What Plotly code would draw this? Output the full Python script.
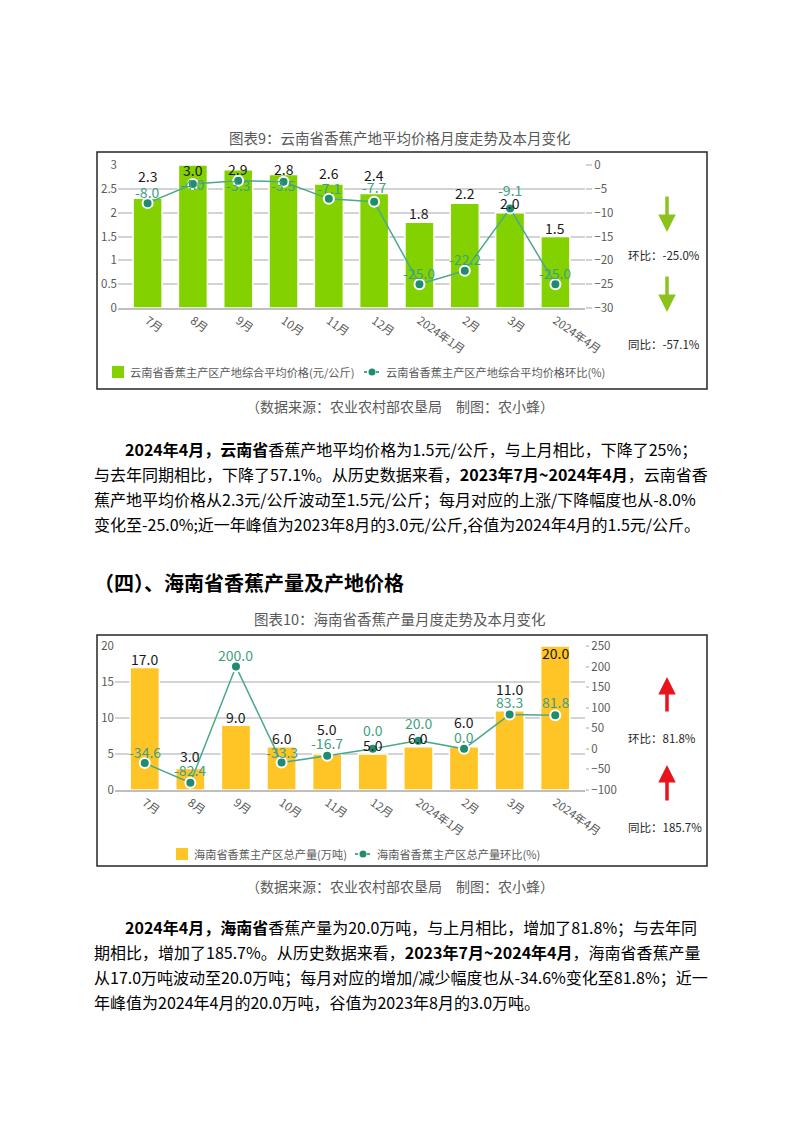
import plotly.graph_objects as go

W, H = 802, 1133


def px(x):
    return x / W


def py(y):
    return 1 - y / H


FONT = "Noto Sans CJK SC, Noto Sans, sans-serif"

# ---------------- data ----------------
months = ["7月", "8月", "9月", "10月", "11月", "12月", "2024年1月", "2月", "3月", "2024年4月"]
yn_price = [2.3, 3.0, 2.9, 2.8, 2.6, 2.4, 1.8, 2.2, 2.0, 1.5]
yn_mom = [-8.0, -4.0, -3.3, -3.5, -7.1, -7.7, -25.0, -22.2, -9.1, -25.0]
hn_output = [17.0, 3.0, 9.0, 6.0, 5.0, 5.0, 6.0, 6.0, 11.0, 20.0]
hn_mom = [-34.6, -82.4, 200.0, -33.3, -16.7, 0.0, 20.0, 0.0, 83.3, 81.8]

yn_mom_latest, yn_yoy_latest = -25.0, -57.1
hn_mom_latest, hn_yoy_latest = 81.8, 185.7

# label offsets (pixels, style only)
yn_bar_shift = [22, -5, 1, 5.5, 11, 18.6, 9, 10, 9.4, 8]
yn_line_shift = [11.4, 0, -4.3, -3, 11, 14.4, 11.5, 11.5, 18.4, 11.5]
hn_bar_shift = [8.3, 12.4, 8, 9, 24.7, 9, 8.5, 24.5, 21.5, -6.7]
hn_line_shift = [11.4, 12.8, 11.6, 11, 12.5, 19, 18, 12.2, 13, 13.6]

GREEN_BAR = "#84d100"
YELLOW_BAR = "#ffc526"
LINE_C = "#4aa88e"
MARK_C = "#1f8c70"
LABEL_TEAL = "#3f9f82"
TICK_C = "#595959"
GRID_C = "#d3d3d3"

fig = go.Figure()

fig.add_trace(go.Bar(x=months, y=yn_price, xaxis="x", yaxis="y",
                     marker=dict(color=GREEN_BAR, line=dict(color="white", width=1.5)),
                     showlegend=False, hoverinfo="skip"))
fig.add_trace(go.Scatter(x=months, y=yn_mom, xaxis="x", yaxis="y2", mode="lines+markers",
                         line=dict(color=LINE_C, width=1.5),
                         marker=dict(color=MARK_C, size=10, line=dict(color="white", width=2)),
                         showlegend=False, hoverinfo="skip"))
fig.add_trace(go.Bar(x=months, y=hn_output, xaxis="x2", yaxis="y3",
                     marker=dict(color=YELLOW_BAR, line=dict(color="white", width=1.5)),
                     showlegend=False, hoverinfo="skip"))
fig.add_trace(go.Scatter(x=months, y=hn_mom, xaxis="x2", yaxis="y4", mode="lines+markers",
                         line=dict(color=LINE_C, width=1.5),
                         marker=dict(color=MARK_C, size=10, line=dict(color="white", width=2)),
                         showlegend=False, hoverinfo="skip"))

tickfont = dict(family=FONT, size=11.5, color=TICK_C)
xcommon = dict(type="category", tickangle=35, tickfont=tickfont, showline=True,
               linecolor="#bfbfbf", linewidth=1.5, showgrid=False, ticks="",
               fixedrange=True, automargin=False)

fig.update_layout(
    width=W, height=H, margin=dict(l=0, r=0, t=0, b=0, pad=0, autoexpand=False),
    paper_bgcolor="white", plot_bgcolor="white",
    font=dict(family=FONT, color="#000"),
    bargap=0.36, showlegend=False,
    xaxis=dict(domain=[px(118), px(585)], anchor="y", **xcommon),
    yaxis=dict(domain=[py(308), py(165)], range=[0, 3], dtick=0.5, gridcolor=GRID_C,
               gridwidth=1.5, zeroline=False, showline=False, tickfont=tickfont,
               automargin=False),
    yaxis2=dict(overlaying="y", side="right", anchor="x", range=[-30, 0], dtick=5,
                showgrid=False, zeroline=False, tickfont=tickfont, ticks="outside",
                ticklen=6, tickcolor=GRID_C, tickwidth=1.5, automargin=False),
    xaxis2=dict(domain=[px(115), px(585)], anchor="y3", **xcommon),
    yaxis3=dict(domain=[py(790), py(646)], range=[0, 20], dtick=5, gridcolor=GRID_C,
                gridwidth=1.5, zeroline=False, showline=False, tickfont=tickfont, anchor="x2",
                automargin=False),
    yaxis4=dict(overlaying="y3", side="right", anchor="x2", range=[-100, 250], dtick=50,
                showgrid=False, zeroline=False, tickfont=tickfont, ticks="outside",
                ticklen=3, tickcolor=GRID_C, tickwidth=1.5, automargin=False),
)

ann = []
shapes = []

# data labels
for xs, vals, shifts, yref, color in [
    (months, yn_price, yn_bar_shift, "y", "#1a1a1a"),
    (months, yn_mom, yn_line_shift, "y2", LABEL_TEAL),
    (months, hn_output, hn_bar_shift, "y3", "#1a1a1a"),
    (months, hn_mom, hn_line_shift, "y4", LABEL_TEAL),
]:
    xref = "x" if yref in ("y", "y2") else "x2"
    for xv, v, s in zip(xs, vals, shifts):
        ann.append(dict(x=xv, y=v, xref=xref, yref=yref, text=f"{v:.1f}", showarrow=False,
                        yanchor="middle", xanchor="center", yshift=s,
                        font=dict(family=FONT, size=14, color=color)))


def text(x, y, t, size, color="#000", anchor="left"):
    ann.append(dict(x=px(x), y=py(y), xref="paper", yref="paper", text=t, showarrow=False,
                    xanchor=anchor, yanchor="middle",
                    font=dict(family=FONT, size=size, color=color)))


# chart boxes
for (x0, y0, x1, y1) in [(97, 152, 707, 389), (97, 635, 707, 866)]:
    shapes.append(dict(type="rect", xref="paper", yref="paper", x0=px(x0), x1=px(x1),
                       y0=py(y1), y1=py(y0), line=dict(color="#262626", width=1.5)))

# titles and sources
text(400, 137, "图表9：云南省香蕉产地平均价格月度走势及本月变化", 14.5, "#595959", "center")
text(400, 406, "（数据来源：农业农村部农垦局　制图：农小蜂）", 14, "#595959", "center")
text(400, 618, "图表10：海南省香蕉产量月度走势及本月变化", 14.5, "#595959", "center")
text(400, 886, "（数据来源：农业农村部农垦局　制图：农小蜂）", 14, "#595959", "center")


# legends
def legend(ysq, sq_x, sq_color, t1, line_x, t2):
    shapes.append(dict(type="rect", xref="paper", yref="paper", x0=px(sq_x), x1=px(sq_x + 12),
                       y0=py(ysq + 6), y1=py(ysq - 6), line=dict(width=0), fillcolor=sq_color))
    text(sq_x + 16, ysq, t1, 11.2, TICK_C)
    shapes.append(dict(type="line", xref="paper", yref="paper", x0=px(line_x), x1=px(line_x + 16),
                       y0=py(ysq), y1=py(ysq), line=dict(color=LINE_C, width=2, dash="dot")))
    shapes.append(dict(type="circle", xref="paper", yref="paper", x0=px(line_x + 4.5),
                       x1=px(line_x + 11.5), y0=py(ysq + 3.5), y1=py(ysq - 3.5),
                       line=dict(width=0), fillcolor=MARK_C))
    text(line_x + 20, ysq, t2, 11.2, TICK_C)


legend(372, 112, GREEN_BAR, "云南省香蕉主产区产地综合平均价格(元/公斤)", 364,
       "云南省香蕉主产区产地综合平均价格环比(%)")
legend(854, 176, YELLOW_BAR, "海南省香蕉主产区总产量(万吨)", 355,
       "海南省香蕉主产区总产量环比(%)")


# arrows and side notes
def arrow(x, y_head, y_tail, color):
    ann.append(dict(x=px(x), y=py(y_head), xref="paper", yref="paper", text="",
                    showarrow=True, ax=0, ay=y_tail - y_head, axref="pixel", ayref="pixel",
                    arrowhead=2, arrowsize=1, arrowwidth=3.5, arrowcolor=color))


arrow(667, 232, 195, "#8cc21c")
arrow(667, 312, 275, "#8cc21c")
arrow(667, 677, 713, "#e8141c")
arrow(667, 765, 802, "#e8141c")

text(626, 255, f"环比：{yn_mom_latest:.1f}%", 11.5, "#262626")
text(626, 344, f"同比：{yn_yoy_latest:.1f}%", 11.5, "#262626")
text(626, 738, f"环比：{hn_mom_latest:.1f}%", 11.5, "#262626")
text(626, 827, f"同比：{hn_yoy_latest:.1f}%", 11.5, "#262626")

# paragraphs
p1 = [
    (123, "<b>2024年4月，云南省</b>香蕉产地平均价格为1.5元/公斤，与上月相比，下降了25%；"),
    (92, "与去年同期相比，下降了57.1%。从历史数据来看，<b>2023年7月~2024年4月</b>，云南省香"),
    (92, "蕉产地平均价格从2.3元/公斤波动至1.5元/公斤；每月对应的上涨/下降幅度也从-8.0%"),
    (92, "变化至-25.0%;近一年峰值为2023年8月的3.0元/公斤,谷值为2024年4月的1.5元/公斤。"),
]
for i, (x, t) in enumerate(p1):
    text(x, 449 + 25 * i, t, 16, "#000")

text(92, 582, "<b>（四）、海南省香蕉产量及产地价格</b>", 20, "#000")

p2 = [
    (123, "<b>2024年4月，海南省</b>香蕉产量为20.0万吨，与上月相比，增加了81.8%；与去年同"),
    (92, "期相比，增加了185.7%。从历史数据来看，<b>2023年7月~2024年4月</b>，海南省香蕉产量"),
    (92, "从17.0万吨波动至20.0万吨；每月对应的增加/减少幅度也从-34.6%变化至81.8%；近一"),
    (92, "年峰值为2024年4月的20.0万吨，谷值为2023年8月的3.0万吨。"),
]
for i, (x, t) in enumerate(p2):
    text(x, 927 + 25 * i, t, 16, "#000")

fig.update_layout(annotations=ann, shapes=shapes)
fig.write_html("out.html")
